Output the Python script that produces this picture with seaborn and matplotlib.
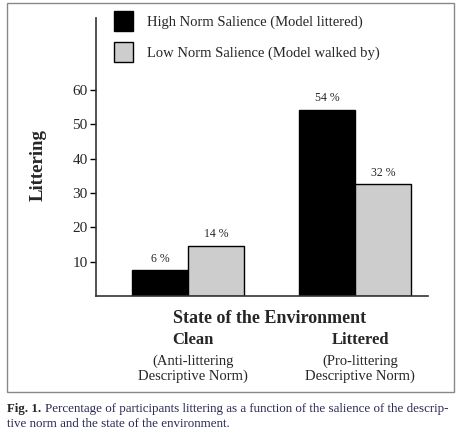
import pandas as pd
import numpy as np
import matplotlib.pyplot as plt
import seaborn as sns
from matplotlib.patches import Rectangle

# values
states = ['Clean', 'Littered']
state_notes = ['(Anti-littering\nDescriptive Norm)', '(Pro-littering\nDescriptive Norm)']
salience = ['High Norm Salience (Model littered)', 'Low Norm Salience (Model walked by)']
high_pct = [7.5, 54.2]
low_pct = [14.6, 32.6]
high_labels = ['6 %', '54 %']
low_labels = ['14 %', '32 %']
yticks = [10, 20, 30, 40, 50, 60]

df = pd.DataFrame({
    'state': states * 2,
    'salience': [salience[0]] * 2 + [salience[1]] * 2,
    'pct': high_pct + low_pct,
})

sns.set_theme(style='white')
plt.rcParams['font.family'] = ['Liberation Serif', 'DejaVu Serif']

fig = plt.figure(figsize=(4.64, 4.4), dpi=100)
ax = fig.add_axes([96 / 464, 1 - 296 / 440, 332 / 464, 278 / 440])

sns.barplot(data=df, x='state', y='pct', hue='salience',
            palette=['black', '#cdcdcd'], width=0.665, gap=0,
            edgecolor='black', linewidth=1, saturation=1, ax=ax)

ax.bar_label(ax.containers[0], labels=high_labels, padding=4, fontsize=8.5)
ax.bar_label(ax.containers[1], labels=low_labels, padding=4, fontsize=8.5)

ax.set_xlim(-0.551, 1.437)
ax.set_ylim(0, 81)
ax.set_yticks(yticks)
ax.tick_params(axis='y', direction='out', length=4, width=1, labelsize=11, pad=2, left=True, color='black')
ax.set_xticks([])
ax.set_xlabel('')
ax.set_ylabel('')
for side in ['top', 'right']:
    ax.spines[side].set_visible(False)
for side in ['left', 'bottom']:
    ax.spines[side].set_color('#333333')
    ax.spines[side].set_linewidth(1.2)

# category labels under the axis
trans = ax.get_xaxis_transform()
for i, (name, note) in enumerate(zip(states, state_notes)):
    ax.text(i + 0.03, -0.16, name, transform=trans, ha='center', va='center',
            fontsize=12, fontweight='bold')
    ax.text(i + 0.03, -0.262, note, transform=trans, ha='center', va='center',
            fontsize=10.5, linespacing=1.2)

fig.text(270 / 464, 1 - 318 / 440, 'State of the Environment', ha='center', va='center',
         fontsize=13, fontweight='bold')
fig.text(38 / 464, 1 - 165 / 440, 'Littering', ha='center', va='center',
         rotation=90, fontsize=13.5, fontweight='bold')

handles, labels = ax.get_legend_handles_labels()
ax.legend(handles, labels, loc='upper left', bbox_to_anchor=(114 / 464, 1 - 11 / 440),
          bbox_transform=fig.transFigure, frameon=False, fontsize=10.5,
          handlelength=1.3, handleheight=1.75, handletextpad=0.95,
          labelspacing=0.75, borderpad=0, borderaxespad=0)

# outer frame and caption
fig.patches.append(Rectangle((7 / 464, 1 - 392 / 440), 447 / 464, 389 / 440,
                             transform=fig.transFigure, fill=False,
                             edgecolor='#888888', linewidth=1))
fig.text(7 / 464, 1 - 409 / 440, 'Fig. 1.', ha='left', va='center',
         fontsize=9.3, fontweight='bold')
fig.text(45 / 464, 1 - 409 / 440,
         'Percentage of participants littering as a function of the salience of the descrip-',
         ha='left', va='center', fontsize=9.4, color='#2a2a55')
fig.text(7 / 464, 1 - 423.5 / 440, 'tive norm and the state of the environment.',
         ha='left', va='center', fontsize=9.4, color='#2a2a55')

fig.savefig('out.png', dpi=100)
